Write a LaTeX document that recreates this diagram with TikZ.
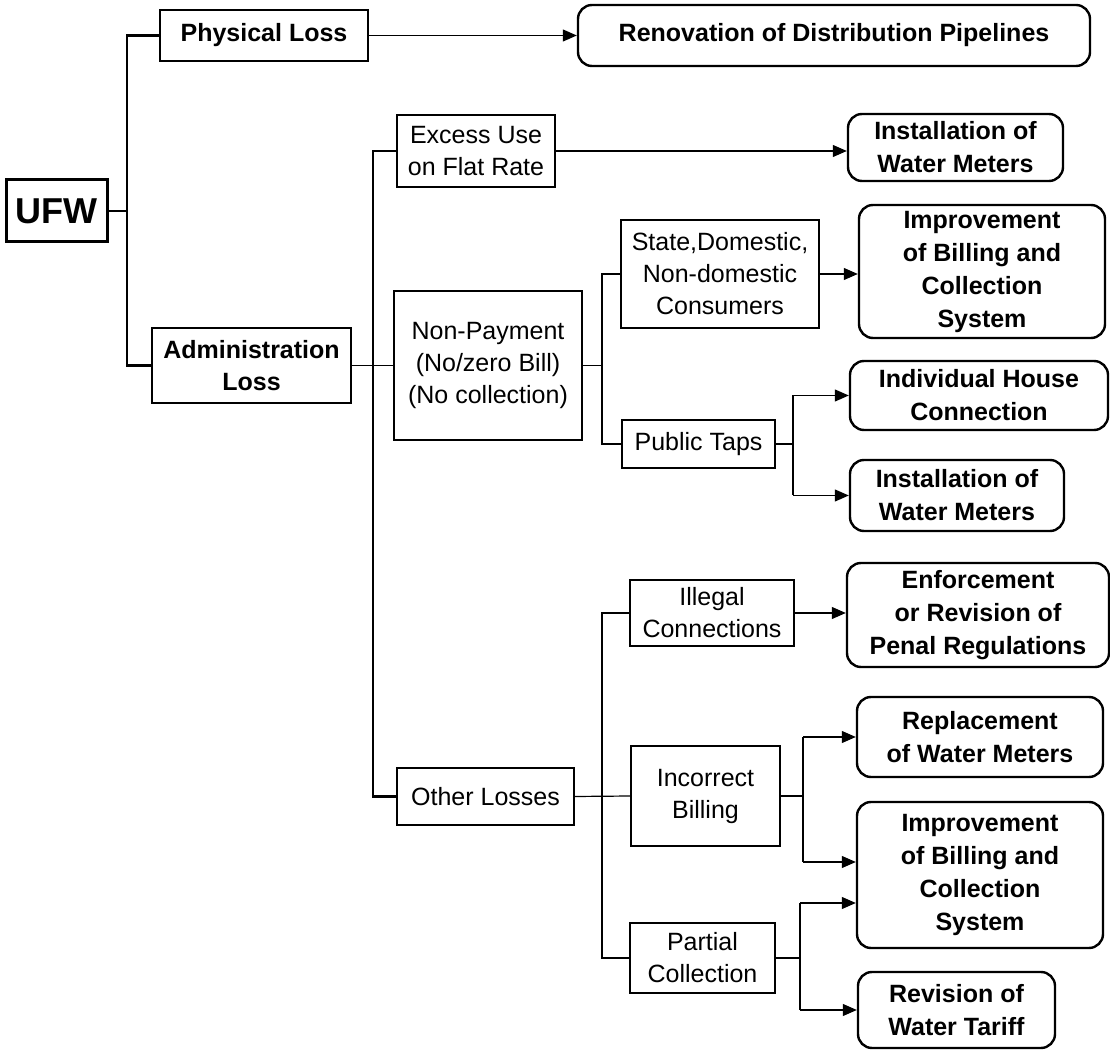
\documentclass[tikz,border=0pt]{standalone}
\usepackage{fontspec}
\setmainfont{Liberation Sans}
\usetikzlibrary{arrows.meta}
\tikzset{
  box/.style={draw,line width=0.8pt,inner sep=0pt,align=center,font=\fontsize{12.5}{16}\selectfont},
  lbox/.style={box,font=\fontsize{12.5}{16}\selectfont\bfseries},
  rbox/.style={box,rounded corners=7pt,line width=1.2pt,font=\fontsize{12.5}{16.5}\selectfont\bfseries},
  trunk/.style={line width=1.2pt},
  link/.style={line width=0.6pt},
  arr/.style={link,-{Triangle[length=7pt,width=6pt]}},
}
\newcommand{\bx}[6][box]{\node[#1,minimum width=#4*0.5pt,minimum height=#5*0.5pt] (#2) at (#3) {#6};}
\begin{document}
\begin{tikzpicture}[x=0.5pt,y=-0.5pt]
  \useasboundingbox (0,0) rectangle (1110,1053);
  \bx[lbox,line width=1.5pt,font=\fontsize{18}{20}\selectfont\bfseries]{ufw}{56.5,211}{101}{62}{UFW}
  \bx[lbox]{phys}{264,35.5}{208}{51}{Physical Loss}
  \bx[lbox]{adm}{251.5,365.5}{199}{75}{Administration\\Loss}
  \bx[rbox]{renov}{834,35.5}{512}{61}{Renovation of Distribution Pipelines}
  \bx{excess}{476,151}{158}{72}{Excess Use\\on Flat Rate}
  \bx[rbox]{inst1}{955.5,147.5}{215}{67}{Installation of\\Water Meters}
  \bx{nonpay}{488,365.5}{188}{149}{Non-Payment\\(No/zero Bill)\\(No collection)}
  \bx{state}{720,274}{198}{108}{State,Domestic,\\Non-domestic\\Consumers}
  \bx[rbox]{imp1}{982,271.5}{246}{133}{Improvement\\of Billing and\\Collection\\System}
  \bx{taps}{698.5,444}{153}{48}{Public Taps}
  \bx[rbox]{house}{979,395.5}{258}{69}{Individual House\\Connection}
  \bx[rbox]{inst2}{957,495.5}{214}{71}{Installation of\\Water Meters}
  \bx{other}{485.5,796.5}{177}{57}{Other Losses}
  \bx{illeg}{712,613}{164}{66}{Illegal\\Connections}
  \bx[rbox]{enforce}{978,615}{262}{104}{Enforcement\\or Revision of\\Penal Regulations}
  \bx{incor}{705.5,796}{149}{100}{Incorrect\\Billing}
  \bx[rbox]{repl}{980,737}{246}{80}{Replacement\\of Water Meters}
  \bx[rbox]{imp2}{980,875}{246}{146}{Improvement\\of Billing and\\Collection\\System}
  \bx{partial}{702.5,958}{145}{70}{Partial\\Collection}
  \bx[rbox]{rev}{956.5,1010}{197}{76}{Revision of\\Water Tariff}

  \coordinate (j1) at (127,211);
  \coordinate (j2) at (373,365.5);
  \coordinate (j3) at (602,365.5);
  \coordinate (j4) at (793,444);
  \coordinate (j5) at (602,796.5);
  \coordinate (j6) at (803,796);
  \coordinate (j7) at (800,958);
  \coordinate (a6) at ([yshift=6.5pt]imp2.west);
  \coordinate (a7) at ([yshift=-14pt]imp2.west);

  \draw[link] (ufw.east) -- (j1);
  \draw[trunk] (phys.west) -| (j1) |- (adm.west);
  \draw[arr] (phys.east) -- (renov.west);
  \draw[link] (adm.east) -- (nonpay.west);
  \draw[trunk] (excess.west) -| (j2) |- (other.west);
  \draw[arr] (excess.east) -- (excess.east -| inst1.west);
  \draw[link] (nonpay.east) -- (j3);
  \draw[trunk] (state.west) -| (j3) |- (taps.west);
  \draw[arr] (state.east) -- (state.east -| imp1.west);
  \draw[link] (taps.east) -- (j4);
  \draw[trunk] (j4 |- house.west) -- (j4 |- inst2.west);
  \draw[arr] (j4 |- house.west) -- (house.west);
  \draw[arr] (j4 |- inst2.west) -- (inst2.west);
  \draw[link] (other.east) -- (incor.west);
  \draw[trunk] (illeg.west) -| (j5) |- (partial.west);
  \draw[arr] (illeg.east) -- (illeg.east -| enforce.west);
  \draw[link] (incor.east) -- (j6);
  \draw[trunk] (j6 |- repl.west) -- (a6 -| j6);
  \draw[arr] (j6 |- repl.west) -- (repl.west);
  \draw[arr] (a6 -| j6) -- (a6);
  \draw[link] (partial.east) -- (j7);
  \draw[trunk] (a7 -| j7) -- (j7 |- rev.west);
  \draw[arr] (a7 -| j7) -- (a7);
  \draw[arr] (j7 |- rev.west) -- (rev.west);
\end{tikzpicture}
\end{document}
